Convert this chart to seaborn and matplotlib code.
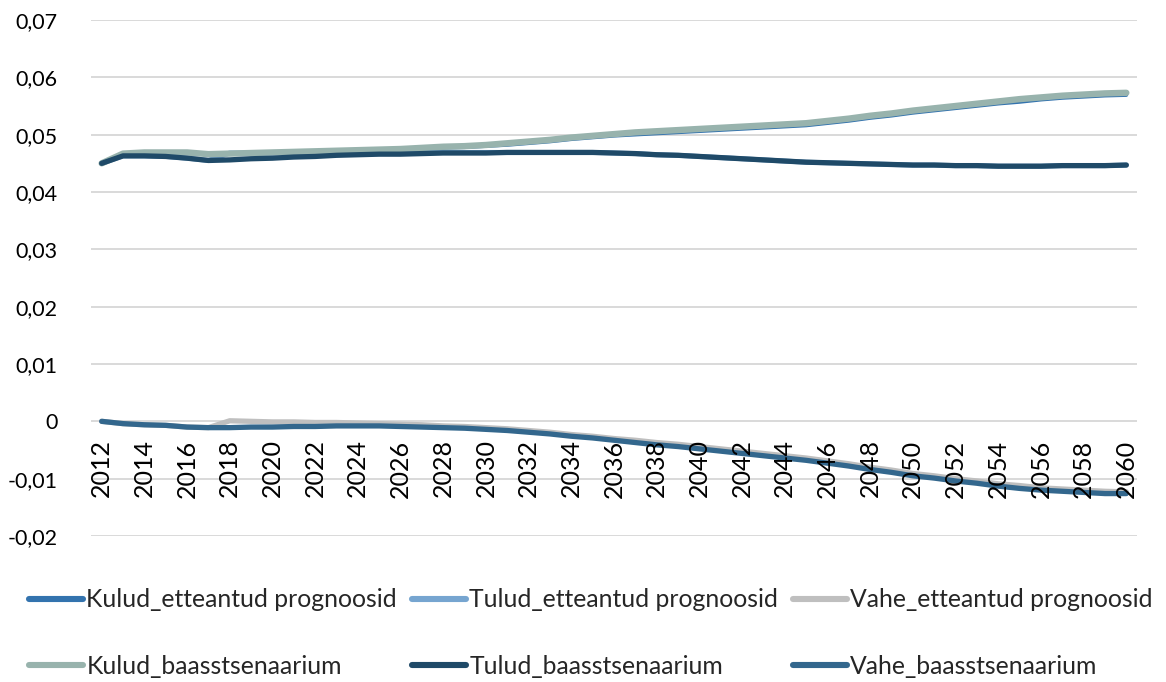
import matplotlib
matplotlib.use("Agg")
import matplotlib.pyplot as plt
import seaborn as sns
import numpy as np
from matplotlib.ticker import FuncFormatter, MultipleLocator

years = list(range(2012, 2061))

kulud_ett = [.0450, .0467, .0469, .0469, .0469, .0466, .0467, .0468, .0469, .0470,
             .0471, .0471, .0472, .0473, .0474, .0475, .0477, .0478, .0480, .0482,
             .0485, .0488, .0492, .0495, .0498, .0500, .0502, .0504, .0506, .0508,
             .0510, .0512, .0514, .0516, .0520, .0524, .0529, .0533, .0538, .0542,
             .0546, .0550, .0554, .0557, .0561, .0564, .0566, .0568, .0569]
tulud_ett = [.0450, .0463, .0463, .0462, .0459, .0455, .0468, .0468, .0468, .0469,
             .0469, .0469, .0469, .0469, .0469, .0469, .0469, .0469, .0469, .0469,
             .0469, .0469, .0469, .0469, .0468, .0467, .0465, .0464, .0462, .0460,
             .0458, .0456, .0454, .0452, .0451, .0450, .0449, .0448, .0447, .0447,
             .0446, .0446, .0445, .0445, .0445, .0446, .0446, .0446, .0447]
vahe_ett = [0.0, -.0004, -.0006, -.0007, -.0010, -.0011, .0001, .0000, -.0001, -.0001,
            -.0002, -.0002, -.0003, -.0004, -.0005, -.0006, -.0008, -.0009, -.0011, -.0013,
            -.0016, -.0019, -.0023, -.0026, -.0030, -.0033, -.0037, -.0040, -.0044, -.0048,
            -.0052, -.0056, -.0060, -.0064, -.0069, -.0074, -.0080, -.0085, -.0091, -.0095,
            -.0100, -.0104, -.0109, -.0112, -.0116, -.0118, -.0120, -.0122, -.0123]
kulud_baas = [.0450, .0467, .0469, .0469, .0469, .0466, .0467, .0468, .0469, .0470,
              .0471, .0472, .0473, .0474, .0475, .0477, .0479, .0480, .0482, .0485,
              .0488, .0491, .0495, .0498, .0501, .0504, .0506, .0508, .0510, .0512,
              .0514, .0516, .0518, .0520, .0524, .0528, .0533, .0537, .0542, .0546,
              .0550, .0554, .0558, .0562, .0565, .0568, .0570, .0572, .0573]
tulud_baas = [.0450, .0463, .0463, .0462, .0459, .0455, .0456, .0458, .0459, .0461,
              .0462, .0464, .0465, .0466, .0466, .0467, .0468, .0468, .0468, .0469,
              .0469, .0469, .0469, .0469, .0468, .0467, .0465, .0464, .0462, .0460,
              .0458, .0456, .0454, .0452, .0451, .0450, .0449, .0448, .0447, .0447,
              .0446, .0446, .0445, .0445, .0445, .0446, .0446, .0446, .0447]
vahe_baas = [0.0, -.0004, -.0006, -.0007, -.0010, -.0011, -.0011, -.0010, -.0010, -.0009,
             -.0009, -.0008, -.0008, -.0008, -.0009, -.0010, -.0011, -.0012, -.0014, -.0016,
             -.0019, -.0022, -.0026, -.0029, -.0033, -.0037, -.0041, -.0044, -.0048, -.0052,
             -.0056, -.0060, -.0064, -.0068, -.0073, -.0078, -.0084, -.0089, -.0095, -.0099,
             -.0104, -.0108, -.0113, -.0117, -.0120, -.0122, -.0124, -.0126, -.0126]

series = [
    ("Kulud_etteantud prognoosid", kulud_ett, "#3373AE", 2.6),
    ("Tulud_etteantud prognoosid", tulud_ett, "#76A5D0", 3.6),
    ("Vahe_etteantud prognoosid", vahe_ett, "#BFBFBF", 3.8),
    ("Kulud_baasstsenaarium", kulud_baas, "#98B3AD", 4.6),
    ("Tulud_baasstsenaarium", tulud_baas, "#1F4A68", 3.8),
    ("Vahe_baasstsenaarium", vahe_baas, "#33678D", 3.8),
]

sns.set_theme(style="white")
plt.rcParams['font.family'] = ['Lato', 'DejaVu Sans']

fig = plt.figure(figsize=(11.66, 6.82), dpi=100)
ax = fig.add_axes([91/1166, 1-536/682, (1137-91)/1166, (536-20)/682])

for name, vals, col, lw in series:
    sns.lineplot(x=years, y=vals, color=col, lw=lw, ax=ax, label=name,
                 solid_capstyle='round')
ax.get_legend().remove()
lines = ax.get_lines()

ax.set_xlim(2011.5, 2060.5)
ax.set_ylim(-0.02, 0.07)
ax.yaxis.set_major_locator(MultipleLocator(0.01))

def yfmt(v, pos):
    if abs(v) < 1e-9:
        return "0"
    return ("%.2f" % v).replace(".", ",")
ax.yaxis.set_major_formatter(FuncFormatter(yfmt))
ax.set_xticks(list(range(2012, 2061, 2)))
ax.set_xticklabels([str(y) for y in range(2012, 2061, 2)])

ax.grid(False)
ax.yaxis.grid(True, color="#D9D9D9", lw=1.4)
ax.set_axisbelow(True)
ax.xaxis.set_zorder(3)
for s in ["top", "right", "left"]:
    ax.spines[s].set_visible(False)
ax.spines["bottom"].set_position(("data", 0))
ax.spines["bottom"].set_visible(False)
ax.tick_params(axis="y", length=0, pad=24, labelsize=15.5, labelcolor="black")
ax.tick_params(axis="x", length=0, pad=13, labelsize=18, labelrotation=90, labelcolor="black")
ax.set_xlabel("")
ax.set_ylabel("")

order = [0, 3, 1, 4, 2, 5]
leg = fig.legend([lines[i] for i in order], [series[i][0] for i in order],
                 ncol=3, loc="lower left", bbox_to_anchor=(0.010, -0.019),
                 frameon=False, fontsize=17.8, handlelength=2.2, handletextpad=0.12,
                 columnspacing=0.6, labelspacing=1.75, borderpad=0.2)
for h in leg.get_lines():
    h.set_linewidth(4.4)

fig.savefig("out.png", dpi=100)
